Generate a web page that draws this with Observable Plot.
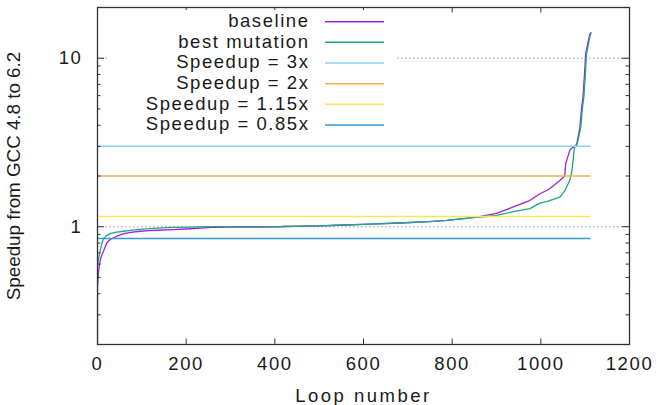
<!DOCTYPE html>
<html>
<head>
<meta charset="utf-8">
<script src="https://cdn.jsdelivr.net/npm/d3@7"></script>
<script src="https://cdn.jsdelivr.net/npm/@observablehq/plot@0.6"></script>
<style>
  html, body { margin: 0; padding: 0; background: #fff; }
  #wrap { position: relative; width: 657px; height: 405px; font-family: "Liberation Sans", Arial, sans-serif; color: #1a1a1a; }
  #legend { position: absolute; left: 108px; top: 10px; }
</style>
</head>
<body>
<div id="wrap"></div>
<script>
// ---- data ----
const baselineLoop = [0, 2, 4, 6, 8, 11, 14, 18, 22, 29, 36, 44, 59, 75, 96, 115, 134, 171, 209, 240,
  260, 300, 411, 420, 502, 540, 614, 682, 757, 788, 825, 860, 870, 900, 938, 975, 998, 1013, 1020, 1043,
  1054, 1056, 1065, 1072, 1080, 1088, 1092, 1095, 1099, 1101, 1104, 1110, 1113];
const baselineSpeedup = [0.45, 0.53, 0.58, 0.63, 0.66, 0.69, 0.72, 0.77, 0.81, 0.84, 0.86, 0.88, 0.91, 0.925, 0.94, 0.947, 0.953, 0.962, 0.973, 0.985,
  0.992, 0.995, 0.998, 1.003, 1.012, 1.02, 1.037, 1.052, 1.076, 1.09, 1.118, 1.145, 1.16, 1.2, 1.31, 1.43, 1.57, 1.64, 1.68, 1.88,
  2.0, 2.36, 2.83, 2.96, 3.0, 3.88, 5.1, 5.84, 8.4, 10.6, 11.6, 13.8, 14.2];

const bestLoop = [0, 0, 2, 4, 6, 10, 14, 20, 29, 40, 59, 75, 96, 134, 170, 209, 250, 411, 420, 502,
  540, 614, 682, 757, 788, 825, 860, 870, 900, 938, 975, 998, 1013, 1043, 1055, 1065, 1069, 1072, 1076, 1082,
  1090, 1094, 1097, 1101, 1103, 1106, 1111, 1113];
const bestSpeedup = [0.2, 0.59, 0.64, 0.68, 0.72, 0.8, 0.85, 0.885, 0.91, 0.925, 0.94, 0.952, 0.964, 0.98, 0.99, 0.995, 1.0, 1.0, 1.003, 1.012,
  1.02, 1.037, 1.052, 1.076, 1.09, 1.118, 1.14, 1.146, 1.166, 1.23, 1.28, 1.38, 1.41, 1.5, 1.65, 1.88, 2.06, 2.36, 3.0, 3.1,
  3.88, 5.1, 5.84, 8.4, 10.6, 11.6, 13.6, 14.0];

const seriesNames = ["baseline", "best mutation"];
const refLabels = ["Speedup = 3x", "Speedup = 2x", "Speedup = 1.15x", "Speedup = 0.85x"];
const refValues = [3, 2, 1.15, 0.85];
const loopCount = 1113;

const xTicks = [0, 200, 400, 600, 800, 1000, 1200];
const yMajorTicks = [1, 10];
const yMinorTicks = [0.3, 0.4, 0.5, 0.6, 0.7, 0.8, 0.9, 2, 3, 4, 5, 6, 7, 8, 9];
const xTitle = "Loop number";
const yTitle = "Speedup from GCC 4.8 to 6.2";

// ---- styles ----
const seriesColors = ["#a020e0", "#1aa880"];
const refColors = ["#8ecff2", "#e8b04a", "#f2e85a", "#3a98cc"];
const axisColor = "#333";
const textColor = "#1a1a1a";

const W = 657, H = 405;
const mL = 97, mR = 28, mT = 7, mB = 61;
const iw = W - mL - mR, ih = H - mT - mB;

const refTable = refValues.map((v, i) => ({v, c: refColors[i]}));

const plot = Plot.plot({
  width: W, height: H,
  marginLeft: mL, marginRight: mR, marginTop: mT, marginBottom: mB,
  style: {fontFamily: "Liberation Sans, Arial, sans-serif", fontSize: "18.5px", color: textColor, background: "#fff"},
  x: {domain: [0, 1200]},
  y: {type: "log", domain: [0.2, 20]},
  color: {type: "identity"},
  marks: [
    Plot.ruleY(yMajorTicks, {y: d => d, stroke: "#999", strokeDasharray: "1.5,2.5"}),
    Plot.line(baselineSpeedup, {x: baselineLoop, y: baselineSpeedup, stroke: seriesColors[0], strokeWidth: 1.3, clip: true}),
    Plot.line(bestSpeedup, {x: bestLoop, y: bestSpeedup, stroke: seriesColors[1], strokeWidth: 1.3, clip: true}),
    Plot.ruleY(refTable, {y: "v", x1: 0, x2: loopCount, stroke: "c", strokeWidth: 1.5}),
    // inward ticks
    Plot.tickY(yMajorTicks, {y: d => d, insetRight: iw - 7, stroke: axisColor}),
    Plot.tickY(yMajorTicks, {y: d => d, insetLeft: iw - 7, stroke: axisColor}),
    Plot.tickY(yMinorTicks, {y: d => d, insetRight: iw - 3.5, stroke: axisColor}),
    Plot.tickY(yMinorTicks, {y: d => d, insetLeft: iw - 3.5, stroke: axisColor}),
    Plot.tickX(xTicks, {x: d => d, insetTop: ih - 5.5, stroke: axisColor}),
    Plot.tickX(xTicks, {x: d => d, insetBottom: ih - 5.5, stroke: axisColor}),
    Plot.frame({stroke: axisColor, strokeWidth: 1.3}),
    Plot.axisX({ticks: xTicks, tickSize: 0, tickPadding: 12, tickFormat: d => String(d),
      label: xTitle, labelAnchor: "center", labelArrow: "none", labelOffset: 57}),
    Plot.axisY({ticks: yMajorTicks, tickSize: 0, tickPadding: 15, tickFormat: d => String(d),
      label: yTitle, labelAnchor: "center", labelArrow: "none", labelOffset: 91})
  ]
});

// per-text spacing, mimicking the original renderer
plot.querySelectorAll("text").forEach(t => {
  const s = t.textContent;
  if (s === xTitle) t.setAttribute("style", "letter-spacing:2.5px");
  else if (s === yTitle) t.setAttribute("style", "letter-spacing:0px;font-size:18.8px");
  else t.setAttribute("style", "letter-spacing:1.6px");
});

const wrap = document.getElementById("wrap");
wrap.appendChild(plot);

// legend: opaque box inside the plot frame, as in the original
const entries = seriesNames.map((n, i) => ({n, c: seriesColors[i]}))
  .concat(refLabels.map((n, i) => ({n, c: refColors[i]})));
const lw = 289, lh = 126;
const lg = d3.create("svg").attr("id", "legend").attr("width", lw).attr("height", lh)
  .style("font-family", "Liberation Sans, Arial, sans-serif").style("font-size", "18.5px").style("letter-spacing", "1.55px");
lg.append("rect").attr("width", lw).attr("height", lh).attr("fill", "#fff");
const rows = lg.selectAll("g").data(entries).join("g")
  .attr("transform", (d, i) => `translate(0,${11.7 + i * 20.65})`);
rows.append("text").attr("x", 201.5).attr("y", 5.4).attr("text-anchor", "end").attr("fill", textColor).text(d => d.n);
rows.append("line").attr("x1", 217).attr("x2", 276).attr("y1", 0).attr("y2", 0)
  .attr("stroke", d => d.c).attr("stroke-width", 1.5);
wrap.appendChild(lg.node());
</script>
</body>
</html>
